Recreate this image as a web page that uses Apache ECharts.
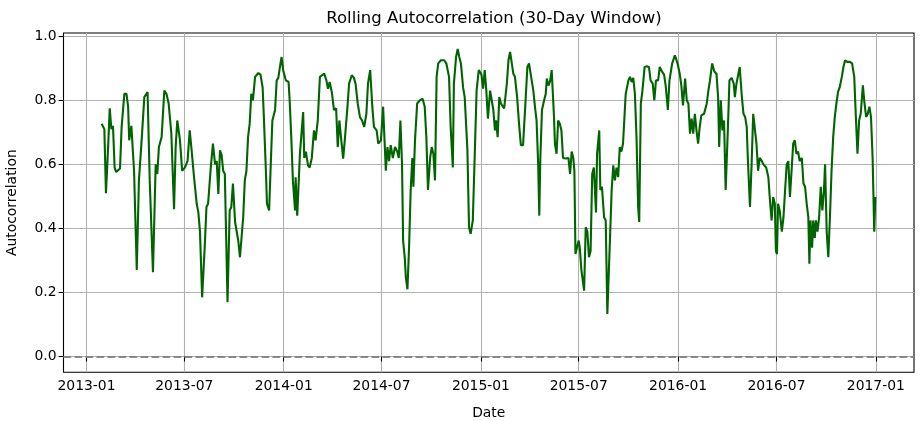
<!DOCTYPE html>
<html>
<head>
<meta charset="utf-8">
<script src="https://cdn.jsdelivr.net/npm/echarts@6/dist/echarts.min.js"></script>
<style>
  html, body { margin: 0; padding: 0; background: #fff; }
  #chart { width: 921px; height: 421px; }
</style>
</head>
<body>
<div id="chart"></div>
<script>
  // days counted from 2013-01-01
  const dayOffsets = [
    28, 33, 36, 40, 43, 46, 49, 52, 55, 62, 65, 70, 74, 77, 79, 83, 88, 93, 97, 102,
    107, 113, 117, 123, 128, 131, 134, 139, 144, 148, 152, 157, 162, 165, 168, 173, 177, 182, 187, 191,
    194, 199, 204, 207, 210, 214, 217, 219, 222, 225, 230, 234, 238, 241, 244, 247, 250, 253, 256, 261,
    265, 268, 271, 275, 278, 281, 284, 287, 290, 293, 296, 299, 302, 305, 308, 312, 318, 322, 326, 328,
    332, 334, 338, 341, 344, 349, 352, 355, 358, 361, 364, 369, 374, 376, 379, 382, 386, 387, 390, 392,
    395, 398, 401, 403, 406, 410, 413, 417, 421, 424, 428, 432, 435, 440, 444, 447, 450, 454, 458, 462,
    465, 468, 471, 475, 478, 483, 486, 491, 495, 498, 502, 506, 510, 514, 518, 521, 525, 529, 532, 537,
    540, 545, 549, 554, 557, 560, 563, 567, 571, 575, 578, 581, 584, 586, 589, 591, 594, 597, 600, 603,
    605, 608, 612, 617, 622, 626, 629, 632, 636, 639, 642, 645, 648, 651, 656, 662, 666, 671, 674, 678,
    680, 684, 687, 690, 693, 697, 700, 705, 708, 711, 715, 719, 722, 726, 731, 734, 737, 740, 743, 747,
    750, 753, 756, 758, 761, 764, 767, 770, 773, 778, 781, 784, 787, 790, 793, 797, 801, 804, 808, 813,
    816, 819, 822, 827, 830, 833, 836, 838, 840, 843, 847, 850, 852, 855, 858, 861, 865, 867, 870, 873,
    876, 879, 882, 887, 892, 895, 898, 901, 903, 905, 908, 911, 913, 916, 921, 924, 927, 930, 933, 936,
    939, 943, 945, 949, 951, 954, 958, 961, 964, 969, 972, 975, 978, 981, 984, 987, 990, 993, 996, 998,
    1003, 1006, 1009, 1012, 1015, 1018, 1021, 1023, 1026, 1029, 1033, 1037, 1041, 1044, 1048, 1051, 1054, 1058, 1061, 1065,
    1069, 1072, 1076, 1079, 1084, 1089, 1094, 1098, 1101, 1104, 1108, 1111, 1114, 1117, 1120, 1123, 1126, 1129, 1132, 1135,
    1138, 1143, 1148, 1151, 1154, 1158, 1162, 1166, 1169, 1171, 1174, 1177, 1180, 1183, 1187, 1190, 1194, 1198, 1200, 1203,
    1206, 1209, 1213, 1216, 1219, 1222, 1224, 1226, 1228, 1231, 1234, 1237, 1240, 1243, 1246, 1250, 1253, 1258, 1262, 1265,
    1268, 1271, 1274, 1276, 1278, 1280, 1283, 1287, 1290, 1293, 1296, 1299, 1302, 1305, 1308, 1311, 1314, 1317, 1320, 1324,
    1327, 1330, 1333, 1336, 1338, 1340, 1343, 1345, 1348, 1350, 1353, 1356, 1359, 1362, 1365, 1367, 1370, 1373, 1376, 1379,
    1382, 1385, 1388, 1391, 1394, 1398, 1401, 1404, 1408, 1413, 1417, 1421, 1424, 1427, 1430, 1433, 1437, 1440, 1443, 1446,
    1449, 1452, 1455, 1458, 1460
  ]
  const autocorr = [
    0.727, 0.71, 0.51, 0.654, 0.775, 0.71, 0.72, 0.59, 0.576, 0.587, 0.717, 0.82, 0.82, 0.78, 0.675, 0.72, 0.58, 0.27, 0.55, 0.675,
    0.81, 0.826, 0.55, 0.263, 0.60, 0.57, 0.654, 0.685, 0.83, 0.82, 0.79, 0.696, 0.46, 0.654, 0.737, 0.675, 0.58, 0.59, 0.61, 0.706,
    0.654, 0.56, 0.477, 0.45, 0.39, 0.185, 0.19, 0.35, 0.467, 0.477, 0.59, 0.665, 0.60, 0.61, 0.508, 0.644, 0.63, 0.58, 0.57, 0.17,
    0.456, 0.467, 0.54, 0.42, 0.425, 0.36, 0.31, 0.31, 0.435, 0.55, 0.58, 0.685, 0.727, 0.82, 0.80, 0.873, 0.885, 0.88, 0.84, 0.758,
    0.58, 0.477, 0.456, 0.60, 0.737, 0.77, 0.862, 0.87, 0.904, 0.935, 0.894, 0.862, 0.857, 0.80, 0.685, 0.55, 0.456, 0.56, 0.44, 0.435,
    0.633, 0.633, 0.763, 0.62, 0.64, 0.597, 0.59, 0.62, 0.706, 0.675, 0.737, 0.873, 0.873, 0.883, 0.862, 0.836, 0.857, 0.826, 0.77, 0.775,
    0.654, 0.737, 0.685, 0.618, 0.675, 0.78, 0.852, 0.878, 0.87, 0.852, 0.79, 0.748, 0.737, 0.717, 0.758, 0.852, 0.894, 0.78, 0.717, 0.706,
    0.665, 0.675, 0.78, 0.58, 0.654, 0.61, 0.66, 0.62, 0.654, 0.64, 0.62, 0.737, 0.60, 0.362, 0.31, 0.248, 0.21, 0.34, 0.52, 0.62,
    0.53, 0.675, 0.79, 0.80, 0.805, 0.78, 0.685, 0.52, 0.62, 0.654, 0.633, 0.55, 0.873, 0.915, 0.925, 0.925, 0.915, 0.873, 0.717, 0.59,
    0.852, 0.935, 0.96, 0.935, 0.915, 0.84, 0.81, 0.644, 0.404, 0.383, 0.425, 0.654, 0.83, 0.894, 0.88, 0.836, 0.894, 0.83, 0.743, 0.83,
    0.80, 0.77, 0.706, 0.737, 0.685, 0.81, 0.79, 0.795, 0.775, 0.852, 0.925, 0.951, 0.945, 0.883, 0.873, 0.81, 0.717, 0.66, 0.66, 0.81,
    0.904, 0.915, 0.883, 0.83, 0.78, 0.737, 0.60, 0.44, 0.62, 0.77, 0.80, 0.82, 0.868, 0.846, 0.86, 0.894, 0.758, 0.665, 0.633, 0.737,
    0.727, 0.706, 0.62, 0.618, 0.62, 0.57, 0.64, 0.62, 0.58, 0.32, 0.325, 0.362, 0.34, 0.27, 0.206, 0.404, 0.39, 0.31, 0.33, 0.57,
    0.59, 0.45, 0.633, 0.706, 0.52, 0.53, 0.435, 0.425, 0.133, 0.373, 0.52, 0.597, 0.55, 0.59, 0.56, 0.654, 0.64, 0.665, 0.758, 0.82,
    0.862, 0.873, 0.857, 0.87, 0.82, 0.685, 0.467, 0.42, 0.79, 0.83, 0.904, 0.906, 0.904, 0.862, 0.852, 0.80, 0.862, 0.862, 0.904, 0.89,
    0.88, 0.846, 0.77, 0.862, 0.915, 0.94, 0.915, 0.883, 0.846, 0.784, 0.868, 0.80, 0.79, 0.696, 0.743, 0.696, 0.758, 0.706, 0.665, 0.717,
    0.753, 0.758, 0.79, 0.83, 0.862, 0.915, 0.89, 0.883, 0.81, 0.654, 0.80, 0.706, 0.737, 0.52, 0.706, 0.862, 0.87, 0.852, 0.81, 0.852,
    0.846, 0.904, 0.81, 0.758, 0.748, 0.717, 0.62, 0.62, 0.467, 0.60, 0.758, 0.763, 0.665, 0.58, 0.62, 0.61, 0.60, 0.59, 0.56, 0.488,
    0.425, 0.498, 0.477, 0.33, 0.32, 0.477, 0.456, 0.39, 0.435, 0.52, 0.60, 0.61, 0.498, 0.58, 0.665, 0.675, 0.633, 0.64, 0.61, 0.62,
    0.54, 0.53, 0.477, 0.435, 0.29, 0.425, 0.34, 0.425, 0.37, 0.425, 0.39, 0.435, 0.53, 0.456, 0.52, 0.60, 0.39, 0.31, 0.435, 0.58,
    0.685, 0.748, 0.79, 0.826, 0.84, 0.873, 0.904, 0.925, 0.92, 0.92, 0.915, 0.873, 0.748, 0.633, 0.737, 0.758, 0.847, 0.79, 0.748, 0.758,
    0.78, 0.748, 0.62, 0.39, 0.498
  ]
  const xTickDates = ['2013-01-01', '2013-07-01', '2014-01-01', '2014-07-01', '2015-01-01',
    '2015-07-01', '2016-01-01', '2016-07-01', '2017-01-01']
  const yTicks = [0, 0.2, 0.4, 0.6, 0.8, 1.0]

  const DAY = 86400000
  const origin = Date.UTC(2013, 0, 1)
  const toTs = s => Date.parse(s + 'T00:00:00Z')

  let seriesData = []
  for (let i = 0; i < dayOffsets.length; i++) {
    seriesData.push([origin + dayOffsets[i] * DAY, autocorr[i]])
  }
  const xTicks = xTickDates.map(toTs)
  const textColor = '#000'
  const fontFamily = 'DejaVu Sans'

  const chart = echarts.init(document.getElementById('chart'), null, { renderer: 'canvas' })
  chart.setOption({
    animation: false,
    backgroundColor: '#fff',
    title: {
      text: 'Rolling Autocorrelation (30-Day Window)',
      left: 489,
      top: 5,
      textAlign: 'center',
      textStyle: { fontFamily: fontFamily, fontSize: 16.5, fontWeight: 'normal', color: textColor }
    },
    grid: {
      left: 63.5, right: 7, top: 33, bottom: 48.7,
      outerBoundsMode: 'none',
      show: true, borderColor: '#000', borderWidth: 1.1, backgroundColor: 'transparent'
    },
    xAxis: {
      type: 'value',
      min: origin - 42.6 * DAY,
      max: origin + 1531.6 * DAY,
      name: 'Date',
      nameLocation: 'middle',
      nameGap: 34,
      nameTextStyle: { fontFamily: fontFamily, fontSize: 13.9, color: textColor },
      axisLine: { show: false },
      axisTick: { show: true, inside: false, length: 4.9, customValues: xTicks, lineStyle: { color: '#000', width: 1.1 } },
      axisLabel: {
        customValues: xTicks,
        margin: 7,
        fontFamily: fontFamily, fontSize: 13.9, color: textColor,
        formatter: v => new Date(v).toISOString().slice(0, 7)
      },
      splitLine: { show: true, lineStyle: { color: '#b0b0b0', width: 1.1 } }
    },
    yAxis: {
      type: 'value',
      min: -0.049,
      max: 1.01,
      name: 'Autocorrelation',
      nameLocation: 'middle',
      nameGap: 44,
      nameRotate: 90,
      nameTextStyle: { fontFamily: fontFamily, fontSize: 13.9, color: textColor },
      axisLine: { show: false },
      axisTick: { show: true, inside: false, length: 4.9, customValues: yTicks, lineStyle: { color: '#000', width: 1.1 } },
      axisLabel: {
        customValues: yTicks,
        margin: 7,
        fontFamily: fontFamily, fontSize: 13.9, color: textColor,
        formatter: v => v.toFixed(1)
      },
      splitLine: { show: true, lineStyle: { color: '#b0b0b0', width: 1.1 } }
    },
    series: [
      {
        name: 'Rolling Autocorrelation',
        type: 'line',
        data: seriesData,
        showSymbol: false,
        symbol: 'none',
        lineStyle: { color: '#006400', width: 2.1 },
        z: 3,
        markLine: {
          silent: true,
          symbol: 'none',
          label: { show: false },
          lineStyle: { color: '#808080', width: 2.1, type: [7.7, 3.3], opacity: 0.9 },
          data: [{ yAxis: 0 }]
        }
      }
    ]
  })
</script>
</body>
</html>
